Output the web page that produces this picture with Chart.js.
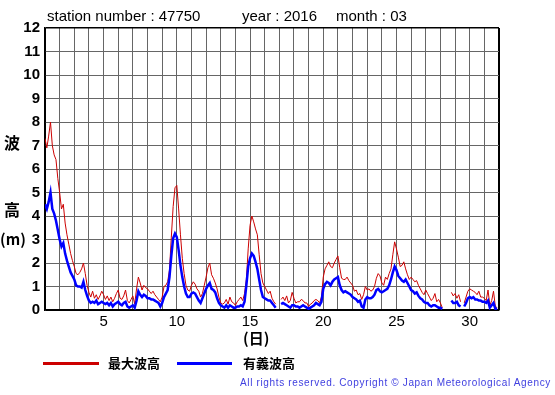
<!DOCTYPE html>
<html>
<head>
<meta charset="utf-8">
<script src="https://cdn.jsdelivr.net/npm/chart.js@4"></script>
<style>
  body { margin: 0; background: #fff; }
  #wrap { position: relative; width: 555px; height: 395px; font-family: "Liberation Sans", Arial, sans-serif; }
  canvas { position: absolute; left: 0; top: 0; }
  .t { position: absolute; white-space: nowrap; color: #000; }
  .title { font-size: 15px; top: 7px; }
  .jp { font-family: "Noto Sans CJK JP", sans-serif; font-weight: bold; }
  .leg { position: absolute; height: 3px; top: 362px; }
</style>
</head>
<body>
<div id="wrap">
  <canvas id="waveChart" width="555" height="395"></canvas>
  <span class="t title" style="left:47px">station number : 47750</span>
  <span class="t title" style="left:242px">year : 2016</span>
  <span class="t title" style="left:336px">month : 03</span>
  <span class="t jp" style="left:4px; top:130px; font-size:16px">波</span>
  <span class="t jp" style="left:4px; top:197px; font-size:16px">高</span>
  <span class="t jp" style="left:0px; top:228px; font-size:15px">(m)</span>
  <span class="t jp" style="left:243px; top:327px; font-size:15px">(日)</span>
  <div class="leg" style="left:43px; width:56px; background:#cc0000"></div>
  <span class="t jp" style="left:108px; top:353px; font-size:13px">最大波高</span>
  <div class="leg" style="left:177px; width:55px; background:#0000ff"></div>
  <span class="t jp" style="left:243px; top:353px; font-size:13px">有義波高</span>
  <span class="t" style="left:240px; top:377px; font-size:10px; letter-spacing:0.65px; color:#4040e0">All rights reserved. Copyright © Japan Meteorological Agency</span>
</div>
<script>
// 3-hourly readings, 8 per day, starting at day 1 00h
const maxWave = [
  7.3, 6.9, 7.4, 8.0, 7.0, 6.6, 6.4, 5.6,
  5.0, 4.3, 4.5, 3.7, 3.2, 2.8, 2.4, 2.1,
  1.85, 1.55, 1.5, 1.6, 1.75, 2.0, 1.55, 1.05,
  0.75, 0.55, 0.8, 0.5, 0.65, 0.45, 0.6, 0.8,
  0.65, 0.45, 0.6, 0.4, 0.55, 0.35, 0.5, 0.7,
  0.85, 0.5, 0.45, 0.6, 0.85, 0.4, 0.3, 0.45,
  0.6, 0.25, 0.9, 1.4, 1.15, 0.85, 1.05, 0.95,
  0.9, 0.8, 0.7, 0.8, 0.65, 0.55, 0.45, 0.35,
  0.55, 1.0, 1.05, 1.2, 1.7, 3.1, 4.4, 5.2,
  5.3, 4.3, 3.2, 2.2, 1.55, 1.05, 0.85, 0.8,
  1.05, 1.2, 1.1, 0.9, 0.8, 0.55, 0.7, 1.05,
  1.4, 1.8, 2.0, 1.5, 1.35, 1.15, 0.9, 0.55,
  0.3, 0.25, 0.3, 0.45, 0.25, 0.55, 0.35, 0.3,
  0.2, 0.35, 0.45, 0.55, 0.4, 0.7, 1.3, 2.6,
  3.6, 4.0, 3.75, 3.45, 3.2, 2.35, 1.55, 1.15,
  1.0, 0.85, 0.7, 0.8, 0.5, 0.35, 0.25, null,
  null, 0.45, 0.55, 0.4, 0.6, 0.3, 0.4, 0.75,
  0.5, 0.3, 0.35, 0.35, 0.45, 0.4, 0.3, 0.3,
  0.15, 0.25, 0.3, 0.4, 0.45, 0.4, 0.3, 0.55,
  1.4, 1.75, 1.9, 2.05, 1.85, 1.8, 2.0, 2.15,
  2.3, 1.8, 1.35, 1.3, 1.3, 1.4, 1.25, 1.15,
  1.05, 0.8, 0.85, 0.65, 0.7, 0.45, 0.65, 1.0,
  0.85, 0.9, 0.8, 0.85, 1.0, 1.35, 1.55, 1.45,
  1.15, 1.05, 1.4, 1.3, 1.55, 1.75, 2.35, 2.9,
  2.6, 2.25, 1.85, 1.9, 2.05, 1.75, 1.5, 1.3,
  1.4, 1.3, 1.2, 1.25, 1.05, 0.9, 0.75, 0.65,
  0.85, 0.7, 0.55, 0.4, 0.5, 0.7, 0.35, 0.45,
  0.3, 0.1, null, null, null, null, 0.75, 0.6,
  0.7, 0.5, 0.65, 0.35, null, 0.3, 0.55, 0.8,
  0.9, 0.85, 0.8, 0.75, 0.65, 0.8, 0.55, 0.55,
  0.5, 0.4, 0.85, 0.2, 0.4, 0.8, 0.15, 0.1
];
const sigWave = [
  4.5, 4.3, 4.6, 5.0, 4.3, 4.1, 3.8, 3.4,
  3.0, 2.7, 2.85, 2.4, 2.1, 1.85, 1.6, 1.45,
  1.3, 1.05, 1.0, 1.0, 0.95, 1.2, 0.85, 0.6,
  0.4, 0.3, 0.35, 0.3, 0.4, 0.25, 0.3, 0.35,
  0.3, 0.25, 0.3, 0.2, 0.3, 0.15, 0.25, 0.3,
  0.35, 0.25, 0.2, 0.3, 0.35, 0.15, 0.1, 0.15,
  0.2, 0.1, 0.4, 0.8, 0.65, 0.55, 0.65, 0.6,
  0.5, 0.5, 0.45, 0.45, 0.4, 0.35, 0.3, 0.15,
  0.3, 0.55, 0.7, 0.85, 1.4, 2.3, 3.05, 3.25,
  3.1, 2.55, 1.9, 1.4, 1.0, 0.7, 0.55, 0.55,
  0.7, 0.75, 0.7, 0.55, 0.4, 0.3, 0.5, 0.7,
  0.9, 1.05, 1.15, 0.9, 0.85, 0.75, 0.5, 0.3,
  0.2, 0.15, 0.1, 0.2, 0.1, 0.2, 0.15, 0.1,
  0.1, 0.15, 0.15, 0.2, 0.15, 0.35, 1.05, 1.85,
  2.2, 2.4, 2.3, 2.05, 1.75, 1.3, 0.85, 0.55,
  0.5, 0.45, 0.4, 0.4, 0.3, 0.2, 0.1, null,
  null, 0.25, 0.3, 0.25, 0.2, 0.15, 0.1, 0.2,
  0.2, 0.15, 0.15, 0.1, 0.15, 0.2, 0.15, 0.1,
  0.05, 0.1, 0.15, 0.2, 0.3, 0.25, 0.2, 0.35,
  0.9, 1.1, 1.2, 1.15, 1.05, 1.2, 1.3, 1.35,
  1.4, 1.05, 0.85, 0.75, 0.8, 0.75, 0.7, 0.65,
  0.55, 0.5, 0.45, 0.35, 0.4, 0.15, 0.1, 0.45,
  0.55, 0.5, 0.5, 0.55, 0.65, 0.85, 0.9, 0.8,
  0.75, 0.8, 0.85, 0.9, 1.05, 1.3, 1.6, 1.85,
  1.7, 1.45, 1.35, 1.25, 1.2, 1.3, 1.15, 1.0,
  0.85, 0.8, 0.7, 0.75, 0.6, 0.5, 0.45, 0.35,
  0.3, 0.3, 0.2, 0.15, 0.2, 0.2, 0.15, 0.1,
  0.1, 0.05, null, null, null, null, 0.4, 0.3,
  0.3, 0.35, 0.2, 0.15, null, 0.15, 0.3, 0.5,
  0.55, 0.5, 0.55, 0.45, 0.45, 0.4, 0.4, 0.35,
  0.35, 0.3, 0.4, 0.1, 0.2, 0.3, 0.05, 0.05
];
const xTickLabels = [5, 10, 15, 20, 25, 30];
const yTickLabels = [0, 1, 2, 3, 4, 5, 6, 7, 8, 9, 10, 11, 12];

const toPoints = arr => arr.map((v, i) => ({ x: 1 + i / 8, y: v }));

const ctx = document.getElementById('waveChart').getContext('2d');
new Chart(ctx, {
  type: 'line',
  data: {
    datasets: [
      {
        label: '有義波高',
        data: toPoints(sigWave),
        borderColor: '#0000ff',
        borderWidth: 2.5,
        pointRadius: 0,
        tension: 0,
        spanGaps: false,
        order: 0
      },
      {
        label: '最大波高',
        data: toPoints(maxWave),
        borderColor: '#cc0000',
        borderWidth: 1,
        pointRadius: 0,
        tension: 0,
        spanGaps: false,
        order: 1
      }
    ]
  },
  options: {
    responsive: false,
    animation: false,
    layout: { padding: { left: 0, right: 56, top: 28, bottom: 0 } },
    plugins: { legend: { display: false }, tooltip: { enabled: false } },
    scales: {
      x: {
        type: 'linear',
        min: 1,
        max: 32,
        afterFit: s => { s.height = 85; },
        ticks: {
          stepSize: 1,
          autoSkip: false,
          maxRotation: 0,
          padding: 3,
          color: '#000',
          font: { family: 'Liberation Sans', size: 15 },
          callback: v => xTickLabels.includes(v) ? v : ''
        },
        grid: {
          drawTicks: false,
          color: c => (c.tick.value === 1 || c.tick.value === 32) ? '#000' : '#666',
          lineWidth: c => (c.tick.value === 32) ? 2 : 1
        },
        border: { color: '#000', width: 1.5 }
      },
      y: {
        min: 0,
        max: 12,
        afterFit: s => { s.width = 45; },
        ticks: {
          stepSize: 1,
          padding: 5,
          color: '#000',
          font: { family: 'Liberation Sans', size: 15, weight: 'bold' },
          callback: v => yTickLabels.includes(v) ? v : ''
        },
        grid: {
          drawTicks: false,
          color: c => (c.tick.value === 0 || c.tick.value === 12) ? '#000' : '#666',
          lineWidth: c => (c.tick.value === 12) ? 1.5 : 1
        },
        border: { color: '#000', width: 1.5 }
      }
    }
  }
});
</script>
</body>
</html>
